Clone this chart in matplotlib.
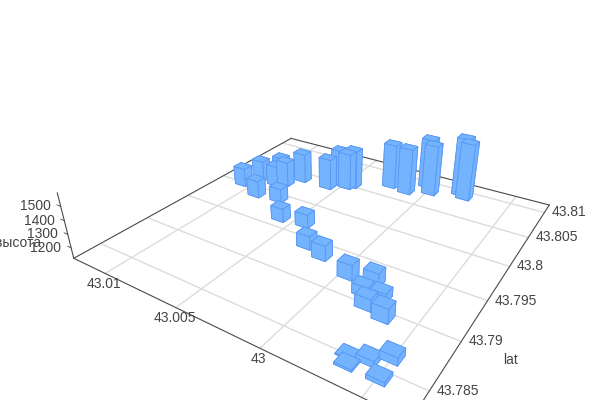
import numpy as np
import matplotlib
matplotlib.use('Agg')
import matplotlib.pyplot as plt
from mpl_toolkits.mplot3d import proj3d

lon = [43.01064, 43.00895, 43.01011, 43.0088, 43.00832, 43.00887, 43.00737, 43.00585, 43.00771, 43.00576, 43.00533,
       43.00446, 43.00471, 43.00237, 43.00117, 43.00039, 42.99982, 42.99815, 42.99774, 43.00427, 43.0029, 43.00162,
       42.99958, 42.99819, 42.99825, 42.99733, 42.99764, 42.99656, 42.9967, 42.99644, 42.99579, 42.99503, 42.99495]
lat = [43.79987, 43.79876, 43.80171, 43.80244, 43.80212, 43.80158, 43.79909, 43.79637, 43.80375, 43.80382, 43.80501,
       43.80533, 43.80483, 43.80735, 43.807, 43.80926, 43.80806, 43.80942, 43.80886, 43.79667, 43.79401, 43.79334,
       43.79227, 43.79256, 43.79107, 43.79126, 43.78989, 43.7894, 43.78512, 43.78434, 43.78538, 43.78631, 43.78438]
height = [1271, 1258, 1290, 1332, 1323, 1287, 1232, 1227, 1359, 1371, 1416, 1431, 1414, 1481, 1492, 1522, 1524, 1586,
          1574, 1226, 1222, 1235, 1232, 1223, 1193, 1186, 1206, 1225, 1128, 1134, 1161, 1174, 1147]

lon_ticks = [43.01, 43.005, 43.0, 42.995]
lon_labels = ['43.01', '43.005', '43', '']
lat_ticks = [43.785, 43.79, 43.795, 43.8, 43.805, 43.81]
lat_labels = ['43.785', '43.79', '43.795', '43.8', '43.805', '43.81']
z_ticks = [1200, 1300, 1400, 1500]

lon0, lon1 = 42.99295, 43.01251
lat0, lat1 = 43.78244, 43.81164
z0, z1 = 1121, 1593
bar_dlon, bar_dlat = 0.00086, 0.00105

TXT = '#444444'
LINE = '#4a4a4a'
GRID = '#dcdcdc'
plt.rcParams['font.family'] = ['Liberation Sans', 'DejaVu Sans']
plt.rcParams['font.size'] = 10

fig = plt.figure(figsize=(6, 4), dpi=100)
ax = fig.add_axes([0.13192, -0.12501, 0.81267, 1.21901], projection='3d', computed_zorder=False)
ax.view_init(28.57811, -57.25933)
ax.set_proj_type('persp', focal_length=0.22226)
ax.set_box_aspect((1.00611, 1, 0.20057))
ax.set_xlim(lon1, lon0)
ax.set_ylim(lat0, lat1)
ax.set_zlim(z0, z1)
ax.set_axis_off()

for v in lon_ticks:
    ax.plot([v, v], [lat0, lat1], [z0, z0], color=GRID, lw=1.0, zorder=1, clip_on=False)
for v in lat_ticks:
    ax.plot([lon0, lon1], [v, v], [z0, z0], color=GRID, lw=1.0, zorder=1, clip_on=False)

for xs, ys in [((lon1, lon0), (lat0, lat0)), ((lon0, lon0), (lat0, lat1)),
               ((lon0, lon1), (lat1, lat1)), ((lon1, lon1), (lat1, lat0))]:
    ax.plot(xs, ys, [z0, z0], color=LINE, lw=0.8, zorder=2, clip_on=False)
ax.plot([lon1, lon1], [lat0, lat0], [z0, z1], color=LINE, lw=0.8, zorder=2, clip_on=False)
for v in z_ticks:
    ax.plot([lon1, lon1 + 0.0003], [lat0, lat0], [v, v], color=LINE, lw=0.6, zorder=2, clip_on=False)

order = np.argsort([-(la - lat0) / (lat1 - lat0) - (lo - lon0) / (lon1 - lon0) for lo, la in zip(lon, lat)])
for k, i in enumerate(order):
    ax.bar3d(lon[i] - bar_dlon / 2, lat[i] - bar_dlat / 2, z0, bar_dlon, bar_dlat, height[i] - z0,
             color='#74b4ff', edgecolor='#5a98f4', linewidth=0.6, shade=False, zorder=3 + k)

M = ax.get_proj()


def at(x, y, z):
    X, Y, _ = proj3d.proj_transform(np.array([x]), np.array([y]), np.array([z]), M)
    return float(X[0]), float(Y[0])


for v, s in zip(lon_ticks, lon_labels):
    ax.annotate(s, xy=at(v, lat0, z0), xytext=(-1, -2.5), textcoords='offset points', ha='center', va='top',
                color=TXT, annotation_clip=False, zorder=100)
for v, s in zip(lat_ticks, lat_labels):
    ax.annotate(s, xy=at(lon0, v, z0), xytext=(5, 0), textcoords='offset points', ha='left', va='center',
                color=TXT, annotation_clip=False, zorder=100)
for v in z_ticks:
    ax.annotate(str(v), xy=at(lon1, lat0, v), xytext=(-7, 0), textcoords='offset points', ha='right', va='center',
                color=TXT, annotation_clip=False, zorder=100)

fig.text(511 / 600, 1 - 360 / 400, 'lat', ha='center', va='center', color=TXT)
fig.text(18 / 600, 1 - 243 / 400, 'высота', ha='center', va='center', color=TXT)

fig.savefig('out.png', dpi=100)
